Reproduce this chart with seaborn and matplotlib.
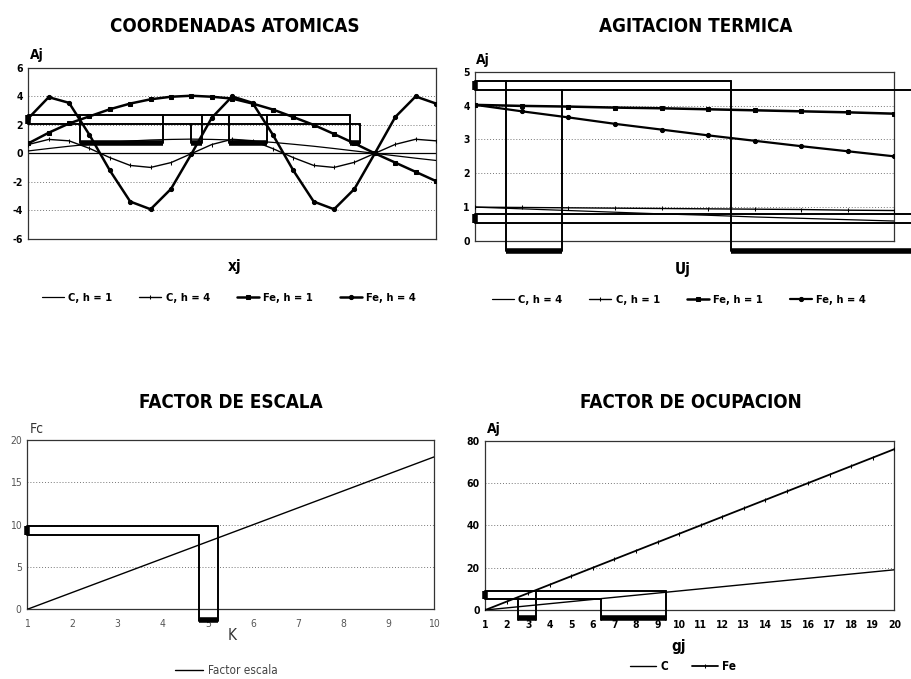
import matplotlib
matplotlib.use('Agg')
import matplotlib.pyplot as plt
import seaborn as sns

# ---- COORDENADAS ATOMICAS (xj, 21 puntos) ----
xj = list(range(21))
coord_c_h1 = [0.17, 0.34, 0.50, 0.64, 0.77, 0.87, 0.94, 0.98, 1.00, 0.98, 0.94,
              0.87, 0.77, 0.64, 0.50, 0.34, 0.17, 0.00, -0.17, -0.34, -0.50]
coord_c_h4 = [0.62, 0.98, 0.88, 0.35, -0.30, -0.85, -0.99, -0.65, -0.02, 0.62, 0.99,
              0.89, 0.33, -0.30, -0.85, -0.99, -0.63, 0.00, 0.63, 0.99, 0.88]
coord_fe_h1 = [0.70, 1.45, 2.10, 2.60, 3.10, 3.50, 3.80, 3.98, 4.05, 3.98, 3.85,
               3.50, 3.08, 2.55, 2.00, 1.36, 0.70, 0.00, -0.65, -1.30, -1.95]
coord_fe_h4 = [2.46, 3.95, 3.55, 1.30, -1.20, -3.39, -3.93, -2.50, -0.05, 2.50, 4.00,
               3.55, 1.30, -1.20, -3.39, -3.93, -2.50, 0.00, 2.55, 4.00, 3.50]
coord_yticks = [-6, -4, -2, 0, 2, 4, 6]

# ---- AGITACION TERMICA (Uj, 10 puntos) ----
uj = list(range(10))
ag_c_h4 = [1.00, 0.95, 0.90, 0.85, 0.80, 0.76, 0.71, 0.67, 0.63, 0.59]
ag_c_h1 = [1.00, 0.99, 0.98, 0.97, 0.96, 0.95, 0.94, 0.93, 0.91, 0.90]
ag_fe_h1 = [4.02, 3.99, 3.97, 3.94, 3.92, 3.89, 3.86, 3.83, 3.80, 3.76]
ag_fe_h4 = [4.02, 3.83, 3.65, 3.46, 3.29, 3.12, 2.96, 2.80, 2.65, 2.50]
ag_yticks = [0, 1, 2, 3, 4, 5]

# ---- FACTOR DE ESCALA ----
k_vals = [1, 2, 3, 4, 5, 6, 7, 8, 9, 10]
fc_vals = [0, 2, 4, 6, 8, 10, 12, 14, 16, 18]
esc_yticks = [0, 5, 10, 15, 20]

# ---- FACTOR DE OCUPACION ----
gj = list(range(1, 21))
oc_c = [0, 1, 2, 3, 4, 5, 6, 7, 8, 9, 10, 11, 12, 13, 14, 15, 16, 17, 18, 19]
oc_fe = [0, 4, 8, 12, 16, 20, 24, 28, 32, 36, 40, 44, 48, 52, 56, 60, 64, 68, 72, 76]
oc_yticks = [0, 20, 40, 60, 80]

# marcas rectangulares del original escaneado: (x0, y0, x1, y1)
coord_thin = [(0, 2.69, 15.77, 2.69), (0, 2.03, 16.26, 2.03),
              (15.77, 2.69, 15.77, 0.75), (16.26, 2.03, 16.26, 0.7),
              (2.54, 2.69, 2.54, 0.75), (6.62, 2.69, 6.62, 0.75),
              (8.0, 2.03, 8.0, 0.7), (8.5, 2.69, 8.5, 0.7),
              (9.85, 2.69, 9.85, 0.75), (11.69, 2.69, 11.69, 0.75)]
coord_thick = [(2.54, 0.75, 6.62, 0.75), (8.0, 0.7, 8.5, 0.7),
               (9.85, 0.75, 11.69, 0.75), (15.77, 0.75, 16.26, 0.75),
               (0, 2.03, 0, 2.69)]
ag_thin = [(0, 4.74, 5.49, 4.74), (5.49, 4.74, 5.49, -0.31),
           (0, 4.46, 9.38, 4.46), (0.66, 4.74, 0.66, -0.31),
           (1.86, 4.46, 1.86, -0.31), (0, 0.81, 9.38, 0.81), (0, 0.54, 9.38, 0.54)]
ag_thick = [(0.66, -0.29, 1.86, -0.29), (5.49, -0.31, 9.38, -0.31),
            (0, 4.46, 0, 4.74), (0, 0.54, 0, 0.81)]
esc_thin = [(1, 9.84, 5.23, 9.84), (1, 8.78, 4.8, 8.78),
            (5.23, 9.84, 5.23, -1.4), (4.8, 8.78, 4.8, -1.4)]
esc_thick = [(4.8, -1.25, 5.23, -1.25), (1, 8.78, 1, 9.84)]
oc_thin = [(1, 9.1, 9.39, 9.1), (1, 5.0, 6.37, 5.0),
           (2.5, 5.0, 2.5, -4.6), (3.35, 9.1, 3.35, -4.6),
           (6.37, 5.0, 6.37, -4.6), (9.39, 9.1, 9.39, -4.6)]
oc_thick = [(2.5, -4.0, 3.35, -4.0), (6.37, -4.0, 9.39, -4.0), (1, 5.0, 1, 9.1)]

sns.set_style('white')
NARROW = ['Liberation Sans Narrow', 'DejaVu Sans']
plt.rcParams['font.family'] = NARROW
plt.rcParams['font.stretch'] = 'condensed'
plt.rcParams['axes.unicode_minus'] = False
plt.rcParams['text.color'] = 'black'

fig = plt.figure(figsize=(9.12, 6.79), dpi=100)
W, H = 912.0, 679.0


def px_axes(l, t, r, b):
    return fig.add_axes([l / W, 1 - b / H, (r - l) / W, (b - t) / H])


def overlays(ax, thin, thick):
    for x0, y0, x1, y1 in thin:
        ax.plot([x0, x1], [y0, y1], color='black', lw=1.4, clip_on=False, zorder=4)
    for x0, y0, x1, y1 in thick:
        ax.plot([x0, x1], [y0, y1], color='black', lw=4, solid_capstyle='butt',
                clip_on=False, zorder=4)


def frame(ax, yticks, bold=True, color='black'):
    ax.set_yticks(yticks)
    ax.grid(axis='y', ls=(0, (1, 2)), color='#777777', lw=0.7)
    ax.grid(axis='x', visible=False)
    for s in ax.spines.values():
        s.set_color('#333333')
        s.set_linewidth(0.9)
    ax.tick_params(axis='y', length=0, pad=4, labelsize=7.5, labelcolor=color)
    ax.tick_params(axis='x', direction='in', length=4, width=0.8, color='#333333',
                   labelsize=7.5, labelcolor=color)
    w = 'bold' if bold else 'light'
    for lab in ax.get_yticklabels() + ax.get_xticklabels():
        lab.set_fontweight(w)


def legend(ax, cx, cy, ncol, size=8, bold=True, color='black', hl=2.0, cs=2.4):
    h, l = ax.get_legend_handles_labels()
    if ax.get_legend() is not None:
        ax.get_legend().remove()
    leg = fig.legend(h, l, loc='center', bbox_to_anchor=(cx / W, 1 - cy / H), ncol=ncol,
                     frameon=False, handlelength=hl, handletextpad=0.4, columnspacing=cs,
                     prop={'family': NARROW, 'size': size, 'stretch': 'condensed',
                           'weight': 'bold' if bold else 'normal'})
    for t in leg.get_texts():
        t.set_color(color)


def line(ax, x, y, label, lw, marker=None, ms=0):
    sns.lineplot(x=x, y=y, ax=ax, color='black', lw=lw, marker=marker, markersize=ms,
                 markeredgecolor='black', markerfacecolor='black', label=label, zorder=3)


# ---- panel 1 ----
ax1 = px_axes(28.3, 68, 436, 238.7)
line(ax1, xj, coord_c_h1, 'C, h = 1', 0.9)
line(ax1, xj, coord_c_h4, 'C, h = 4', 1.0, '|', 3)
line(ax1, xj, coord_fe_h1, 'Fe, h = 1', 1.8, 's', 2.5)
line(ax1, xj, coord_fe_h4, 'Fe, h = 4', 1.8, 'o', 3)
ax1.axhline(0, color='black', lw=0.9, zorder=2)
ax1.set_xlim(xj[0], xj[-1])
ax1.set_ylim(coord_yticks[0], coord_yticks[-1])
ax1.set_xticks(xj[1:-1])
ax1.set_xticklabels([])
frame(ax1, coord_yticks)
overlays(ax1, coord_thin, coord_thick)
legend(ax1, 229, 298, 4)

# ---- panel 2 ----
ax2 = px_axes(475.3, 71.7, 894.3, 241)
line(ax2, uj, ag_c_h4, 'C, h = 4', 0.9)
line(ax2, uj, ag_c_h1, 'C, h = 1', 1.0, '|', 3)
line(ax2, uj, ag_fe_h1, 'Fe, h = 1', 1.8, 's', 2.5)
line(ax2, uj, ag_fe_h4, 'Fe, h = 4', 1.6, 'o', 3)
ax2.set_xlim(uj[0], uj[-1])
ax2.set_ylim(ag_yticks[0], ag_yticks[-1])
ax2.set_xticks(uj[1:-1])
ax2.set_xticklabels([])
frame(ax2, ag_yticks)
overlays(ax2, ag_thin, ag_thick)
legend(ax2, 679, 300, 4)

# ---- panel 3 ----
ax3 = px_axes(27.3, 440, 434, 609.3)
line(ax3, k_vals, fc_vals, 'Factor escala', 1.0)
ax3.set_xlim(k_vals[0], k_vals[-1])
ax3.set_ylim(esc_yticks[0], esc_yticks[-1])
ax3.set_xticks(k_vals)
frame(ax3, esc_yticks, bold=False, color='#555555')
ax3.tick_params(axis='x', pad=7)
overlays(ax3, esc_thin, esc_thick)
legend(ax3, 226, 671, 1, size=8.5, bold=False, color='#444444', hl=2.4)

# ---- panel 4 ----
ax4 = px_axes(485.3, 440.7, 894.3, 610)
line(ax4, gj, oc_c, 'C', 1.0)
line(ax4, gj, oc_fe, 'Fe', 1.3, '|', 3)
ax4.set_xlim(gj[0], gj[-1])
ax4.set_ylim(oc_yticks[0], oc_yticks[-1])
ax4.set_xticks(gj)
frame(ax4, oc_yticks)
ax4.tick_params(axis='x', pad=7)
overlays(ax4, oc_thin, oc_thick)
legend(ax4, 683, 667, 2, size=8.5, hl=2.2, cs=2.0)

for ax in (ax1, ax2, ax3, ax4):
    ax.set_xlabel('')
    ax.set_ylabel('')

# titulos y etiquetas de ejes
tkw = dict(ha='center', va='center', fontsize=13.5, fontweight='bold', family=NARROW,
           fontstretch='condensed')
fig.text(235 / W, 1 - 27 / H, 'COORDENADAS ATOMICAS', **tkw)
fig.text(696 / W, 1 - 27 / H, 'AGITACION TERMICA', **tkw)
fig.text(231 / W, 1 - 403 / H, 'FACTOR DE ESCALA', **tkw)
fig.text(691 / W, 1 - 403 / H, 'FACTOR DE OCUPACION', **tkw)

lkw = dict(ha='center', va='center', fontsize=11, fontweight='bold', family=NARROW)
fig.text(235 / W, 1 - 267 / H, 'xj', **lkw)
fig.text(683 / W, 1 - 270 / H, 'Uj', **lkw)
fig.text(679 / W, 1 - 646 / H, 'gj', **lkw)
fig.text(232 / W, 1 - 636 / H, 'K', ha='center', va='center', fontsize=11,
         color='#333333', family=NARROW)
akw = dict(ha='center', va='center', fontsize=10, fontweight='bold', family=NARROW)
fig.text(37 / W, 1 - 55 / H, 'Aj', **akw)
fig.text(483 / W, 1 - 60 / H, 'Aj', **akw)
fig.text(494 / W, 1 - 429 / H, 'Aj', **akw)
fig.text(37 / W, 1 - 429 / H, 'Fc', ha='center', va='center', fontsize=10,
         color='#333333', family=NARROW)

fig.savefig('out.png', dpi=100)
